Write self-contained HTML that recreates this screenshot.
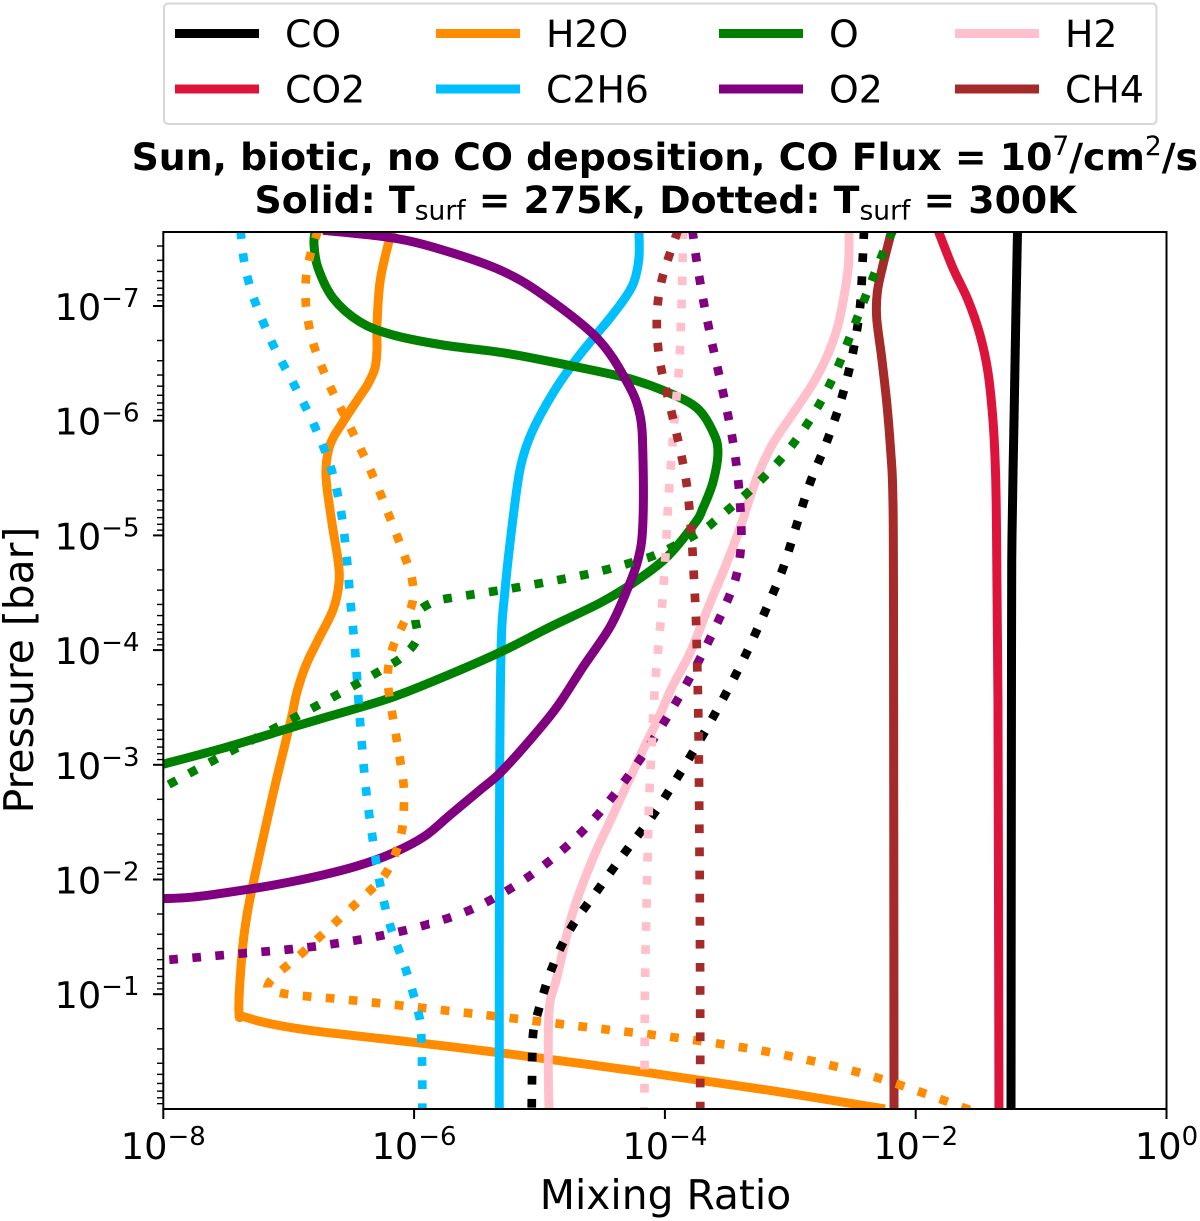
<!DOCTYPE html>
<html lang="en">
<head>
<meta charset="utf-8">
<title>Mixing ratio profiles</title>
<style>
html,body{margin:0;padding:0;background:#fff;}
svg{display:block;}
text{font-family:"DejaVu Sans","Liberation Sans",sans-serif;fill:#000;}
</style>
</head>
<body>
<svg id="chart" xmlns="http://www.w3.org/2000/svg" width="1200" height="1221" viewBox="0 0 1200 1221">
  <defs><clipPath id="plot-clip"><rect x="163.3" y="232" width="1003.2" height="877"/></clipPath></defs>
  <rect x="164" y="3.5" width="992.5" height="120.5" rx="4" fill="#fff" stroke="#d6d6d6" stroke-width="2"/>
  <g id="legend"></g>
  <text x="664.8" y="170" text-anchor="middle" font-size="37.8" font-weight="bold">Sun, biotic, no CO deposition, CO Flux = 10<tspan font-weight="normal" font-size="26.5" dy="-15">7</tspan><tspan dy="15">/cm</tspan><tspan font-weight="normal" font-size="26.5" dy="-15">2</tspan><tspan dy="15">/s</tspan></text>
  <text x="665.5" y="213" text-anchor="middle" font-size="37.8" font-weight="bold">Solid: T<tspan font-weight="normal" font-size="26.5" dy="6.5">surf</tspan><tspan dy="-6.5"> = 275K, Dotted: T</tspan><tspan font-weight="normal" font-size="26.5" dy="6.5">surf</tspan><tspan dy="-6.5"> = 300K</tspan></text>
  <g id="series" clip-path="url(#plot-clip)"></g>
  <rect x="163.3" y="232" width="1003.2" height="877" fill="none" stroke="#000" stroke-width="2"/>
  <g id="axes"></g>
  <text x="665.5" y="1209" text-anchor="middle" font-size="40.8">Mixing Ratio</text>
  <text transform="translate(33 670) rotate(-90)" text-anchor="middle" font-size="40.8">Pressure [bar]</text>
</svg>
<script>
// Every pair below is [log10 mixing ratio, log10 pressure in bar].
const coSolid = [[-1.188,-7.66],[-1.20,-7],[-1.216,-6],[-1.232,-5],[-1.236,-4],[-1.24,0.02]];
const co2Solid = [[-1.822,-7.66],[-1.703,-7.33],[-1.583,-7.052],[-1.487,-6.747],[-1.424,-6.425],[-1.384,-6.006],[-1.364,-5.57],[-1.356,-5.09],[-1.344,-3.565],[-1.336,0.02]];
const h2oSolid = [[-6.168,-7.66],[-6.208,-7.532],[-6.272,-7.209],[-6.296,-6.834],[-6.296,-6.616],[-6.312,-6.459],[-6.368,-6.32],[-6.431,-6.215],[-6.567,-5.989],[-6.671,-5.788],[-6.703,-5.527],[-6.655,-5.108],[-6.607,-4.786],[-6.599,-4.585],[-6.647,-4.35],[-6.766,-4.088],[-6.862,-3.87],[-6.934,-3.635],[-6.982,-3.391],[-7.093,-2.894],[-7.165,-2.554],[-7.269,-2.039],[-7.333,-1.69],[-7.373,-1.342],[-7.397,-0.845],[-7.348,-0.801],[-7.093,-0.731],[-6.726,-0.67],[-5.953,-0.574],[-5.235,-0.478],[-4.175,-0.322],[-3.186,-0.165],[-2.245,0.0]];
const c2h6Solid = [[-4.207,-7.66],[-4.207,-7.418],[-4.247,-7.209],[-4.318,-7.07],[-4.438,-6.895],[-4.557,-6.738],[-4.717,-6.52],[-4.892,-6.241],[-5.06,-5.901],[-5.148,-5.614],[-5.203,-5.221],[-5.275,-4.524],[-5.307,-3.975],[-5.319,-2.519],[-5.321,0.02]];
const oSolid = [[-6.79,-7.66],[-6.798,-7.532],[-6.766,-7.331],[-6.647,-7.07],[-6.431,-6.861],[-6.168,-6.747],[-5.77,-6.66],[-5.275,-6.59],[-4.781,-6.486],[-4.302,-6.372],[-3.983,-6.25],[-3.744,-6.11],[-3.616,-5.901],[-3.577,-5.727],[-3.616,-5.466],[-3.696,-5.239],[-3.76,-5.108],[-3.983,-4.812],[-4.254,-4.585],[-4.517,-4.411],[-4.916,-4.201],[-5.275,-4.001],[-5.634,-3.826],[-6.168,-3.591],[-6.695,-3.417],[-6.99,-3.321],[-7.492,-3.155],[-8.026,-2.998]];
const o2Solid = [[-6.726,-7.66],[-6.168,-7.593],[-5.77,-7.488],[-5.315,-7.314],[-4.972,-7.096],[-4.542,-6.721],[-4.302,-6.337],[-4.199,-6.05],[-4.175,-5.675],[-4.177,-5.073],[-4.215,-4.786],[-4.302,-4.524],[-4.438,-4.201],[-4.653,-3.853],[-4.861,-3.504],[-5.076,-3.216],[-5.315,-2.928],[-5.475,-2.78],[-5.714,-2.562],[-5.913,-2.379],[-6.168,-2.231],[-6.431,-2.126],[-6.695,-2.048],[-6.99,-1.978],[-7.309,-1.917],[-7.763,-1.847],[-8.11,-1.83]];
const h2Solid = [[-2.532,-7.66],[-2.536,-7.357],[-2.577,-7.052],[-2.63,-6.791],[-2.71,-6.555],[-2.817,-6.329],[-2.976,-6.067],[-3.136,-5.806],[-3.242,-5.57],[-3.321,-5.335],[-3.393,-5.09],[-3.507,-4.759],[-3.64,-4.411],[-3.80,-3.975],[-3.943,-3.678],[-4.047,-3.417],[-4.175,-3.129],[-4.414,-2.562],[-4.573,-2.187],[-4.733,-1.717],[-4.863,-1.141],[-4.922,-0.88],[-4.93,-0.383],[-4.924,0.02]];
const ch4Solid = [[-2.191,-7.66],[-2.261,-7.357],[-2.306,-7.122],[-2.311,-6.895],[-2.271,-6.547],[-2.229,-6.137],[-2.199,-5.727],[-2.183,-5.378],[-2.177,-4.437],[-2.173,0.02]];

const coDotted = [[-2.412,-7.66],[-2.423,-7.401],[-2.444,-6.991],[-2.5,-6.599],[-2.588,-6.207],[-2.707,-5.823],[-2.843,-5.457],[-2.955,-5.073],[-3.066,-4.69],[-3.21,-4.315],[-3.361,-3.949],[-3.529,-3.591],[-3.706,-3.242],[-3.898,-2.894],[-4.099,-2.554],[-4.316,-2.24],[-4.536,-1.908],[-4.749,-1.577],[-4.903,-1.22],[-5.014,-0.836],[-5.052,-0.644],[-5.06,-0.234],[-5.062,0.02]];
const h2oDotted = [[-6.766,-7.66],[-6.83,-7.436],[-6.862,-7.244],[-6.864,-7.035],[-6.841,-6.843],[-6.796,-6.643],[-6.732,-6.459],[-6.657,-6.268],[-6.495,-5.91],[-6.338,-5.544],[-6.198,-5.169],[-6.07,-4.803],[-6.014,-4.602],[-6.014,-4.411],[-6.091,-4.219],[-6.166,-4.036],[-6.206,-3.844],[-6.203,-3.643],[-6.142,-3.242],[-6.086,-2.85],[-6.081,-2.649],[-6.094,-2.449],[-6.139,-2.257],[-6.219,-2.065],[-6.338,-1.917],[-6.607,-1.647],[-6.884,-1.368],[-7.157,-1.098],[-7.064,-1.01],[-6.511,-0.949],[-5.78,-0.862],[-5.23,-0.792],[-4.502,-0.697],[-3.774,-0.601],[-3.048,-0.47],[-2.325,-0.278],[-1.633,-0.017],[-1.567,0.026]];
const c2h6Dotted = [[-7.384,-7.66],[-7.362,-7.436],[-7.327,-7.244],[-7.271,-7.044],[-7.131,-6.677],[-6.96,-6.32],[-6.798,-5.963],[-6.663,-5.588],[-6.581,-5.195],[-6.537,-4.803],[-6.506,-4.402],[-6.471,-4.001],[-6.445,-3.591],[-6.418,-3.199],[-6.384,-2.789],[-6.336,-2.397],[-6.278,-1.996],[-6.192,-1.603],[-6.07,-1.228],[-5.967,-0.845],[-5.943,-0.644],[-5.935,-0.234],[-5.935,0.02]];
const oDotted = [[-2.181,-7.66],[-2.245,-7.506],[-2.383,-7.131],[-2.516,-6.756],[-2.657,-6.381],[-2.829,-6.032],[-3.048,-5.701],[-3.3,-5.413],[-3.574,-5.152],[-3.72,-5.03],[-4.039,-4.847],[-4.223,-4.777],[-4.576,-4.672],[-4.938,-4.594],[-5.299,-4.524],[-5.663,-4.463],[-5.847,-4.419],[-5.985,-4.306],[-5.974,-4.105],[-6.086,-3.949],[-6.232,-3.844],[-6.559,-3.643],[-6.884,-3.452],[-7.215,-3.26],[-7.534,-3.077],[-7.861,-2.885],[-8.106,-2.737]];
const o2Dotted = [[-3.78,-7.66],[-3.754,-7.445],[-3.694,-7.052],[-3.619,-6.651],[-3.539,-6.259],[-3.465,-5.867],[-3.415,-5.474],[-3.391,-5.073],[-3.396,-4.873],[-3.425,-4.672],[-3.483,-4.48],[-3.635,-4.114],[-3.802,-3.757],[-3.986,-3.408],[-4.185,-3.068],[-4.4,-2.745],[-4.64,-2.44],[-4.911,-2.17],[-5.211,-1.935],[-5.536,-1.743],[-5.881,-1.612],[-6.238,-1.516],[-6.599,-1.446],[-6.966,-1.394],[-7.333,-1.359],[-7.699,-1.324],[-8.066,-1.29]];
const h2Dotted = [[-3.856,-7.66],[-3.861,-7.27],[-3.872,-6.861],[-3.888,-6.459],[-3.92,-6.058],[-3.949,-5.657],[-3.975,-5.256],[-3.994,-4.855],[-4.018,-4.454],[-4.05,-4.053],[-4.081,-3.652],[-4.111,-3.051],[-4.127,-2.649],[-4.137,-2.249],[-4.145,-1.847],[-4.153,-1.446],[-4.159,-1.045],[-4.161,-0.644],[-4.164,0.02]];
const ch4Dotted = [[-3.896,-7.66],[-3.967,-7.436],[-4.021,-7.244],[-4.055,-7.044],[-4.065,-6.843],[-4.055,-6.643],[-4.029,-6.451],[-3.986,-6.25],[-3.901,-5.858],[-3.829,-5.466],[-3.792,-5.064],[-3.77,-4.664],[-3.752,-4.262],[-3.742,-3.861],[-3.734,-3.46],[-3.728,-2.85],[-3.72,-1.446],[-3.718,0.02]];

const speciesNames = ['CO','CO2','H2O','C2H6','O','O2','H2','CH4'];
const speciesColors = ['#000000','#dc143c','#ff8c00','#00bfff','#008000','#800080','#ffc0cb','#a52a2a'];
const solidSeries = [coSolid,co2Solid,h2oSolid,c2h6Solid,oSolid,o2Solid,h2Solid,ch4Solid];
const dottedSeries = [coDotted,null,h2oDotted,c2h6Dotted,oDotted,o2Dotted,h2Dotted,ch4Dotted];
const xTickExponents = [-8,-6,-4,-2,0];
const yTickExponents = [-7,-6,-5,-4,-3,-2,-1];

const SVG_NS = 'http://www.w3.org/2000/svg';
const LEFT = 163.3, DECADE_X = 125.4, Y_AT_0 = 1108.9, DECADE_Y = 114.7, BOTTOM = 1109, TOP = 232;
function xScale(logRatio){ return LEFT + (logRatio + 8) * DECADE_X; }
function yScale(logPressure){ return Y_AT_0 + logPressure * DECADE_Y; }
function make(tag, attrs, parent){
  const el = document.createElementNS(SVG_NS, tag);
  for (const k in attrs) el.setAttribute(k, attrs[k]);
  parent.appendChild(el);
  return el;
}
function curvePath(points){
  const p = points.map(function(d){ return [xScale(d[0]), yScale(d[1])]; });
  let out = 'M' + p[0][0].toFixed(2) + ' ' + p[0][1].toFixed(2);
  for (let i = 0; i < p.length - 1; i++) {
    const a = p[Math.max(i - 1, 0)], b = p[i], c = p[i + 1], d = p[Math.min(i + 2, p.length - 1)];
    const c1x = b[0] + (c[0] - a[0]) / 6, c1y = b[1] + (c[1] - a[1]) / 6;
    const c2x = c[0] - (d[0] - b[0]) / 6, c2y = c[1] - (d[1] - b[1]) / 6;
    out += 'C' + c1x.toFixed(2) + ' ' + c1y.toFixed(2) + ' ' + c2x.toFixed(2) + ' ' + c2y.toFixed(2) + ' ' + c[0].toFixed(2) + ' ' + c[1].toFixed(2);
  }
  return out;
}
const seriesLayer = document.getElementById('series');
solidSeries.forEach(function(points, i){
  const line = make('path', {d: curvePath(points), fill: 'none', stroke: speciesColors[i], 'stroke-width': 9}, seriesLayer);
  
  
});
dottedSeries.forEach(function(points, i){
  if (!points) return;
  const line = make('path', {d: curvePath(points), fill: 'none', stroke: speciesColors[i], 'stroke-width': 8.7, 'stroke-dasharray': '8.7 14.4'}, seriesLayer);
  
  
});

const axes = document.getElementById('axes');
function tickLabel(exponent, x, y, anchor, supRise, name){
  const label = make('text', {x: x, y: y, 'text-anchor': anchor, 'font-size': 36.7}, axes);
  
  
  label.appendChild(document.createTextNode('10'));
  const sup = make('tspan', {'font-size': 26, dy: -supRise}, label);
  sup.textContent = (exponent < 0 ? '\u2212' + (-exponent) : String(exponent));
}
xTickExponents.forEach(function(e){
  const x = xScale(e);
  const tick = make('line', {x1: x, x2: x, y1: BOTTOM, y2: 1119, stroke: '#000', 'stroke-width': 2}, axes);
  
  
  tickLabel(e, x, 1159, 'middle', 14, 'x-tick-label');
});
yTickExponents.forEach(function(e){
  const y = yScale(e);
  const tick = make('line', {x1: 153, x2: LEFT, y1: y, y2: y, stroke: '#000', 'stroke-width': 2}, axes);
  
  
  tickLabel(e, 139.5, y + 14, 'end', 13, 'y-tick-label');
});
for (let d = -8; d < 0; d++) {
  for (let m = 2; m < 10; m++) {
    const y = yScale(d + Math.log10(m));
    if (y < TOP || y > BOTTOM) continue;
    const minor = make('line', {x1: 157, x2: LEFT, y1: y, y2: y, stroke: '#000', 'stroke-width': 1.4}, axes);
    
    
  }
}

const legend = document.getElementById('legend');
const legendColumnX = [175, 436, 719, 955];
const legendRowY = [33.5, 89];
speciesNames.forEach(function(name, i){
  const col = Math.floor(i / 2), row = i % 2;
  const x = legendColumnX[col], y = legendRowY[row];
  const swatch = make('line', {x1: x, x2: x + 84, y1: y, y2: y, stroke: speciesColors[i], 'stroke-width': 9}, legend);
  
  
  const label = make('text', {x: x + 110, y: y + 13.5, 'font-size': 37.8}, legend);
  
  
  label.textContent = name;
});
</script>
</body>
</html>
